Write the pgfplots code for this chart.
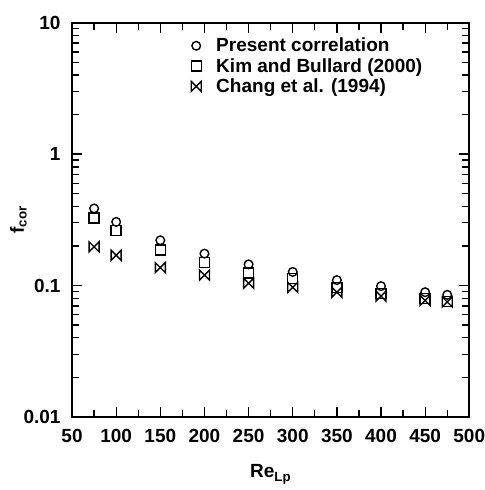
\documentclass[border=0pt]{standalone}
\usepackage{fontspec}
\setmainfont{Liberation Sans}
\usepackage{pgfplots}
\pgfplotsset{compat=1.18}
\pgfdeclareplotmark{bowtie}{%
  \pgfpathmoveto{\pgfqpoint{-\pgfplotmarksize}{-\pgfplotmarksize}}%
  \pgfpathlineto{\pgfqpoint{-\pgfplotmarksize}{\pgfplotmarksize}}%
  \pgfpathlineto{\pgfqpoint{\pgfplotmarksize}{-\pgfplotmarksize}}%
  \pgfpathlineto{\pgfqpoint{\pgfplotmarksize}{\pgfplotmarksize}}%
  \pgfpathclose
  \pgfusepathqstroke}
\begin{document}
\begin{tikzpicture}[font=\bfseries\fontsize{19}{21}\selectfont]
\begin{axis}[
  scale only axis, width=397pt, height=394pt,
  ymode=log, xmin=50, xmax=500, ymin=0.01, ymax=10,
  xtick={50,100,150,200,250,300,350,400,450,500},
  xticklabels={50,100,150,200,250,300,350,400,450,500},
  minor x tick num=1,
  ytick={0.01,0.1,1,10},
  yticklabels={0.01,0.1,1,10},
  tick align=inside,
  major tick length=10pt, minor tick length=7pt,
  axis line style={line width=1.6pt},
  every tick/.style={black, line width=1.3pt},
  ticklabel style={font=\bfseries\fontsize{19}{21}\selectfont},
  xlabel={Re\textsubscript{Lp}},
  ylabel={f\textsubscript{cor}},
  xlabel style={yshift=-15pt},
  ylabel style={yshift=-10pt},
  yticklabel style={xshift=-8pt},
  xticklabel style={yshift=-9pt},
  legend style={draw=none, fill=none, at={(0.297,0.969)}, anchor=north west,
    font=\bfseries\fontsize{19}{21}\selectfont, row sep=1pt, inner sep=1pt,
    /tikz/every odd column/.append style={column sep=13pt}},
  legend cell align=left,
]
\addplot[only marks, mark=o, mark size=4.3pt, line width=1.4pt] coordinates {
(75,0.386) (100,0.305) (150,0.221) (200,0.175) (250,0.145) (300,0.127) (350,0.110) (400,0.099) (450,0.089) (475,0.085)};
\addlegendentry{Present correlation}
\addplot[only marks, mark=square, mark size=5pt, line width=1.4pt] coordinates {
(75,0.327) (100,0.261) (150,0.186) (200,0.149) (250,0.125) (300,0.113) (350,0.097) (400,0.087) (450,0.080) (475,0.076)};
\addlegendentry{Kim and Bullard (2000)}
\addplot[only marks, mark=bowtie, mark size=5pt, line width=1.4pt] coordinates {
(75,0.197) (100,0.170) (150,0.137) (200,0.120) (250,0.104) (300,0.097) (350,0.089) (400,0.083) (450,0.077) (475,0.075)};
\addlegendentry{Chang et al. (1994)}
\end{axis}
\pgfresetboundingbox
\path[use as bounding box] ([shift={(-72pt,-73pt)}]current axis.south west) rectangle ([shift={(15pt,22.7pt)}]current axis.north east);
\end{tikzpicture}
\end{document}
